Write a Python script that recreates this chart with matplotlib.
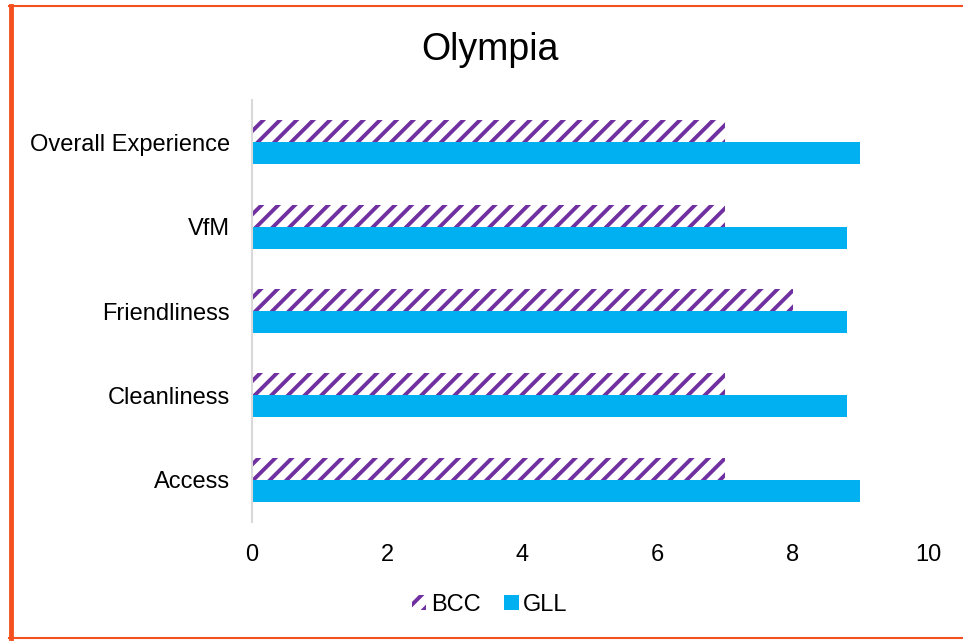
import numpy as np
import matplotlib.pyplot as plt
from matplotlib.lines import Line2D

plt.rcParams['font.family'] = ['Liberation Sans', 'DejaVu Sans']
plt.rcParams['hatch.linewidth'] = 2.8

categories = ["Access", "Cleanliness", "Friendliness", "VfM", "Overall Experience"]
bcc = [7.0, 7.0, 8.0, 7.0, 7.0]
gll = [9.0, 8.8, 8.8, 8.8, 9.0]
xticks = [0, 2, 4, 6, 8, 10]

purple = "#7030A0"
blue = "#00B0F0"

fig = plt.figure(figsize=(9.63, 6.41), dpi=100)
ax = fig.add_axes([252 / 963, 1 - 522 / 641, (928 - 252) / 963, (522 - 100) / 641])

y = np.arange(len(categories))
h = 0.26
ax.barh(y + h / 2, bcc, height=h, color="white", edgecolor=purple, hatch="//",
        linewidth=0, label="BCC")
ax.barh(y - h / 2, gll, height=h, color=blue, linewidth=0, label="GLL")

ax.set_xlim(0, 10)
ax.set_ylim(-0.5, len(categories) - 0.5)
ax.set_xticks(xticks)
ax.set_xticklabels([str(t) for t in xticks])
ax.set_yticks(y)
ax.set_yticklabels(categories)
ax.tick_params(axis="both", length=0, labelsize=17, colors="#000000")
ax.tick_params(axis="x", pad=16)
ax.tick_params(axis="y", pad=16)
for s in ["top", "right", "bottom"]:
    ax.spines[s].set_visible(False)
ax.spines["left"].set_color("#D9D9D9")
ax.spines["left"].set_linewidth(1.5)

fig.text(490 / 963, 1 - 50 / 641, "Olympia", fontsize=27, ha="center", va="center")

leg = fig.legend(loc="center", bbox_to_anchor=(490 / 963, 1 - 605 / 641), ncol=2,
                 frameon=False, fontsize=17, handlelength=0.6, handleheight=0.6,
                 columnspacing=1.0, handletextpad=0.2)

# border lines (left thick, top and bottom thin)
border = "#F4511E"
fig.add_artist(Line2D([11 / 963, 11 / 963], [1 - 638 / 641, 1 - 6 / 641],
                      transform=fig.transFigure, color=border, linewidth=3.5))
fig.add_artist(Line2D([9 / 963, 1], [1 - 6 / 641, 1 - 6 / 641],
                      transform=fig.transFigure, color=border, linewidth=1.5))
fig.add_artist(Line2D([9 / 963, 1], [1 - 638 / 641, 1 - 638 / 641],
                      transform=fig.transFigure, color=border, linewidth=1.5))

fig.savefig("out.png", dpi=100)
